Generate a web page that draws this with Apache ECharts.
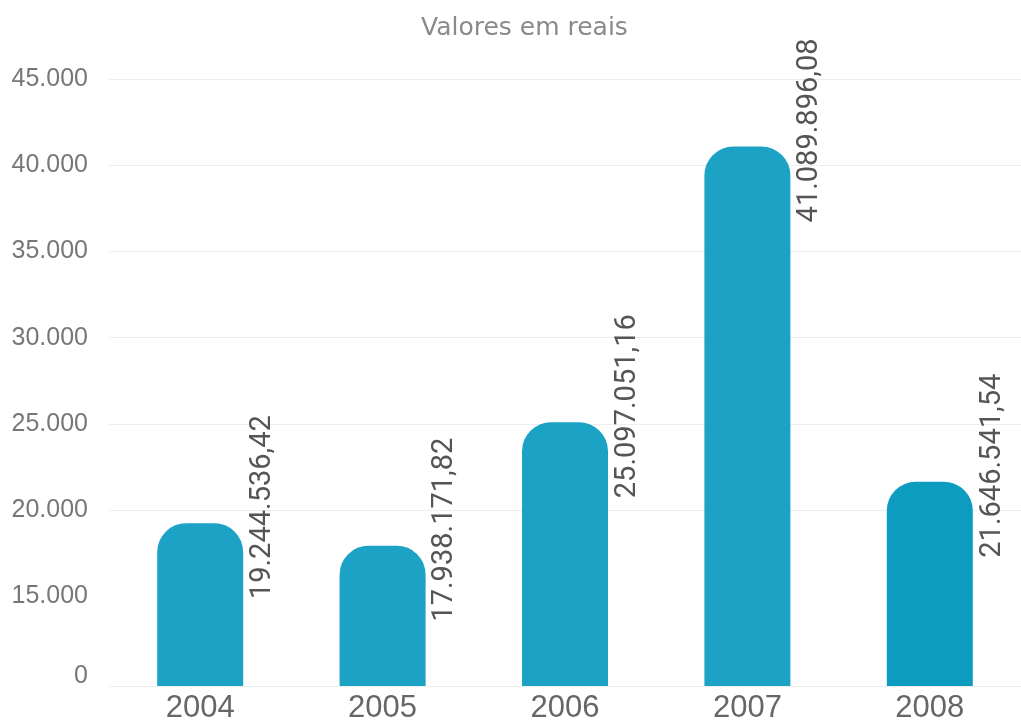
<!DOCTYPE html>
<html>
<head>
<meta charset="utf-8">
<title>Valores em reais</title>
<script src="https://cdn.jsdelivr.net/npm/echarts@6/dist/echarts.min.js"></script>
<style>
  html, body { margin: 0; padding: 0; background: #ffffff; }
  #chart { width: 1021px; height: 727px; }
</style>
</head>
<body>
<div id="chart"></div>
<script>
// Yearly totals, in reais
const years = ['2004', '2005', '2006', '2007', '2008'];
const totals = [19244536.42, 17938171.82, 25097051.16, 41089896.08, 21646541.54];

// Value axis (in reais); the stretch between 0 and 15 million is collapsed
const axisMin = 0;
const axisMax = 45000000;
const axisStep = 5000000;
const breakFrom = 0;
const breakTo = 15000000;

const barColors = ['#1ba2c5', '#1ba2c5', '#1ba2c5', '#1ba2c5', '#0b9cbf'];

function groupThousands(intStr) {
  return intStr.replace(/\B(?=(\d{3})+(?!\d))/g, '.');
}

// 19244536.42 -> "19.244.536,42"
function formatReais(v) {
  const cents = Math.round(v * 100);
  const whole = Math.floor(cents / 100);
  const frac = String(cents % 100).padStart(2, '0');
  return groupThousands(String(whole)) + ',' + frac;
}

// axis ticks shown in thousands: 45000000 -> "45.000"
function formatThousands(v) {
  return groupThousands(String(Math.round(v / 1000)));
}

const chart = echarts.init(document.getElementById('chart'), null, { renderer: 'canvas' });

chart.setOption({
  animation: false,
  backgroundColor: '#ffffff',
  title: {
    text: 'Valores em reais',
    left: 416,
    top: 11,
    textStyle: {
      fontFamily: 'DejaVu Sans',
      fontSize: 25,
      fontWeight: 'normal',
      color: '#8a8a8a'
    }
  },
  grid: {
    left: 109,
    right: 0,
    top: 79,
    bottom: 41,
    containLabel: false
  },
  xAxis: {
    type: 'category',
    data: years,
    axisLine: { show: false },
    axisTick: { show: false },
    axisLabel: {
      margin: 7,
      fontFamily: 'Liberation Sans',
      fontSize: 31,
      color: '#666666'
    }
  },
  yAxis: {
    type: 'value',
    min: axisMin,
    max: axisMax,
    interval: axisStep,
    breaks: [{ start: breakFrom, end: breakTo, gap: 5200000 }],
    breakArea: {
      show: false,
      expandOnClick: false,
      zigzagAmplitude: 0,
      itemStyle: { color: 'rgba(0,0,0,0)', borderColor: 'rgba(0,0,0,0)', borderWidth: 0 }
    },
    axisLine: { show: false },
    axisTick: { show: false },
    splitLine: { lineStyle: { color: '#eeeeee', width: 1 } },
    axisLabel: {
      margin: 21,
      fontFamily: 'Liberation Sans',
      fontSize: 25,
      color: '#777777',
      formatter: function (v) {
        return v === 0 ? '{z|0}' : formatThousands(v);
      },
      rich: {
        z: {
          fontFamily: 'Liberation Sans',
          fontSize: 25,
          color: '#777777',
          padding: [0, 0, 20, 0]
        }
      }
    }
  },
  series: [{
    type: 'bar',
    data: totals,
    barWidth: 86,
    itemStyle: {
      borderRadius: [29, 29, 0, 0],
      color: function (p) { return barColors[p.dataIndex]; }
    },
    label: {
      show: true,
      position: [91, -16],
      rotate: 90,
      align: 'center',
      verticalAlign: 'top',
      fontFamily: 'Roboto',
      fontSize: 29,
      color: '#555555',
      formatter: function (p) { return formatReais(p.value); }
    }
  }]
});
</script>
</body>
</html>
